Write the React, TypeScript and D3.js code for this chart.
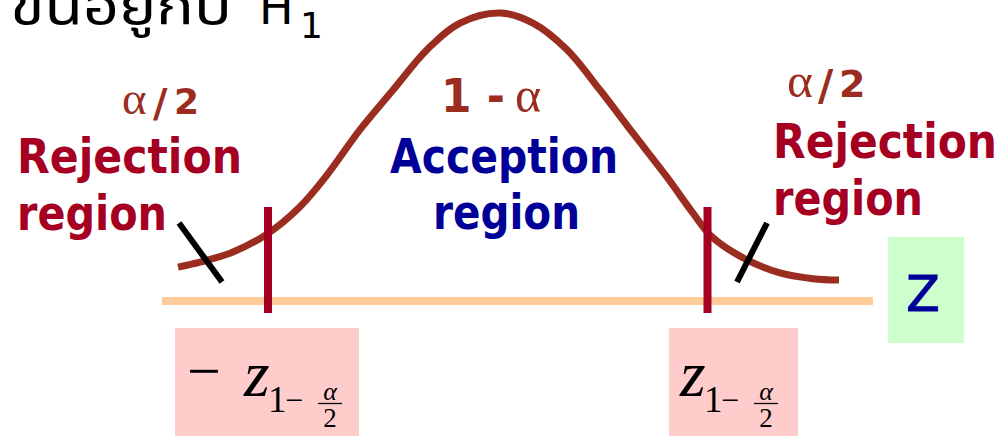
import React from "react";
import * as d3 from "d3";

// ---- data ----
const curveZ = [-3.22, -3.0, -2.67, -2.33, -2.0, -1.73, -1.4, -1.07, -0.73, -0.4, 0, 0.33, 0.67, 1.0, 1.33, 1.67, 1.93, 2.12, 2.47, 2.8, 3.13, 3.39];
const curveDensity = [0.047, 0.054, 0.068, 0.093, 0.131, 0.175, 0.238, 0.293, 0.349, 0.386, 0.4, 0.386, 0.349, 0.293, 0.233, 0.172, 0.122, 0.089, 0.057, 0.039, 0.031, 0.029];
const criticalValues = [-2.32, 2.075];
const tailMarks = [-2.95, 2.52];
const axisExtent = [-3.38, 3.73];
const titleThai = "ขึ้นอยู่กับ";
const titleVar = "H";
const titleSub = "1";
const slash = "/";
const two = "2";
const centerAreaLabel = "1 - ";
const alpha = "α";
const rejectLines = ["Rejection", "region"];
const acceptLines = ["Acception", "region"];
const axisVar = "Z";

const W = 1007;
const H = 436;
const BROWN = "#9a2d1f";
const RED = "#a50021";
const NAVY = "#000099";
const SANS = "'DejaVu Sans', Verdana, sans-serif";
const SERIF = "'Liberation Serif', 'Times New Roman', serif";

function CritLabel({ x, withMinus }: { x: number; withMinus: boolean }) {
  // x = left edge of the italic z
  return (
    <g fontFamily={SERIF} fill="#000">
      {withMinus && (
        <text x={x - 60} y={391} fontSize={60}>
          −
        </text>
      )}
      <text x={x - 3} y={396} fontSize={66} fontStyle="italic">
        z
      </text>
      <text x={x + 21} y={412} fontSize={37}>
        1
      </text>
      <text x={x + 38} y={411} fontSize={32}>
        −
      </text>
      <text x={x + 83} y={400} fontSize={26} fontStyle="italic" textAnchor="middle">
        α
      </text>
      <line x1={x + 71} x2={x + 95} y1={403.5} y2={403.5} stroke="#000" strokeWidth={1.3} />
      <text x={x + 83} y={427} fontSize={27} textAnchor="middle">
        2
      </text>
    </g>
  );
}

function TailLabel({ x, y, size }: { x: number; y: number; size: number }) {
  // x = left edge of alpha
  return (
    <g fill={BROWN}>
      <text x={x - 1} y={y} fontFamily={SERIF} fontSize={size * 1.3}>
        {alpha}
      </text>
      <text x={x + 30} y={y + 3} fontFamily={SANS} fontWeight="bold" fontSize={size * 1.1}>
        {slash}
      </text>
      <text x={x + 51} y={y} fontFamily={SANS} fontWeight="bold" fontSize={size}>
        {two}
      </text>
    </g>
  );
}

export default function App() {
  const x = d3.scaleLinear().domain([-1, 1]).range([400, 600]);
  const y = d3.scaleLinear().domain([0, 0.4]).range([301, 13]);
  const pts: [number, number][] = curveZ.map((z, i) => [z, curveDensity[i]]);
  const line = d3
    .line<[number, number]>()
    .x((d) => x(d[0]))
    .y((d) => y(d[1]))
    .curve(d3.curveCatmullRom.alpha(0.5));

  const baseY = y(0);
  const [cL, cR] = criticalValues.map((c) => x(c));
  const [tL, tR] = tailMarks.map((t) => x(t));

  return (
    <svg
      width={W}
      height={H}
      style={{ position: "absolute", left: 0, top: 0, background: "#fff" }}
    >
      {/* title (cut at top) */}
      <g fill="#000">
        <text x={10} y={24} fontSize={52} fontFamily="'Noto Sans Thai', 'Tlwg Typo', Loma, Garuda, 'DejaVu Sans', sans-serif" textLength={222} lengthAdjust="spacingAndGlyphs">
          {titleThai}
        </text>
        <text x={259} y={24} fontSize={46} fontFamily={SANS}>
          {titleVar}
        </text>
        <text x={300} y={38} fontSize={36} fontFamily={SANS}>
          {titleSub}
        </text>
      </g>

      {/* critical value boxes */}
      <rect x={cL - 93} y={328} width={184} height={H - 328} fill="#ffcccc" />
      <rect x={cR - 38.5} y={328} width={129} height={H - 328} fill="#ffcccc" />
      <CritLabel x={cL - 21} withMinus={true} />
      <CritLabel x={cR - 24.5} withMinus={false} />

      {/* Z box */}
      <rect x={x(axisExtent[1]) + 15} y={237} width={76} height={106} fill="#ccffcc" />
      <text x={x(axisExtent[1]) + 50} y={311} fontSize={49} fontFamily={SANS} fill={NAVY} textAnchor="middle" stroke={NAVY} strokeWidth={1}>
        {axisVar}
      </text>

      {/* axis */}
      <line x1={x(axisExtent[0])} x2={x(axisExtent[1])} y1={baseY} y2={baseY} stroke="#ffcc99" strokeWidth={8} />

      {/* curve */}
      <path d={line(pts) ?? ""} fill="none" stroke={BROWN} strokeWidth={7} />

      {/* critical lines */}
      {[cL, cR].map((cx, i) => (
        <line key={i} x1={cx} x2={cx} y1={207} y2={313} stroke={RED} strokeWidth={8} />
      ))}

      {/* tail marks */}
      <line x1={tL - 26} y1={223} x2={tL + 17} y2={282} stroke="#000" strokeWidth={6} />
      <line x1={tR + 15} y1={223} x2={tR - 15} y2={282} stroke="#000" strokeWidth={6} />

      {/* left labels */}
      <TailLabel x={123} y={114} size={36} />
      <text x={17} y={173} fill={RED} fontFamily={SANS} fontWeight="bold" fontSize={48} textLength={225} lengthAdjust="spacingAndGlyphs">
        {rejectLines[0]}
      </text>
      <text x={17} y={230} fill={RED} fontFamily={SANS} fontWeight="bold" fontSize={48} textLength={150} lengthAdjust="spacingAndGlyphs">
        {rejectLines[1]}
      </text>

      {/* right labels */}
      <TailLabel x={788} y={97} size={38} />
      <text x={773} y={158} fill={RED} fontFamily={SANS} fontWeight="bold" fontSize={48} textLength={224} lengthAdjust="spacingAndGlyphs">
        {rejectLines[0]}
      </text>
      <text x={773} y={215} fill={RED} fontFamily={SANS} fontWeight="bold" fontSize={48} textLength={150} lengthAdjust="spacingAndGlyphs">
        {rejectLines[1]}
      </text>

      {/* center labels */}
      <text x={441} y={112} fill={BROWN} fontFamily={SANS} fontWeight="bold" fontSize={47} textLength={64} lengthAdjust="spacingAndGlyphs">
        {centerAreaLabel}
      </text>
      <text x={515} y={112} fill={BROWN} fontFamily={SERIF} fontSize={50}>
        {alpha}
      </text>
      <text x={390} y={173} fill={NAVY} fontFamily={SANS} fontWeight="bold" fontSize={48} textLength={228} lengthAdjust="spacingAndGlyphs">
        {acceptLines[0]}
      </text>
      <text x={433} y={229} fill={NAVY} fontFamily={SANS} fontWeight="bold" fontSize={48} textLength={147} lengthAdjust="spacingAndGlyphs">
        {acceptLines[1]}
      </text>
    </svg>
  );
}
